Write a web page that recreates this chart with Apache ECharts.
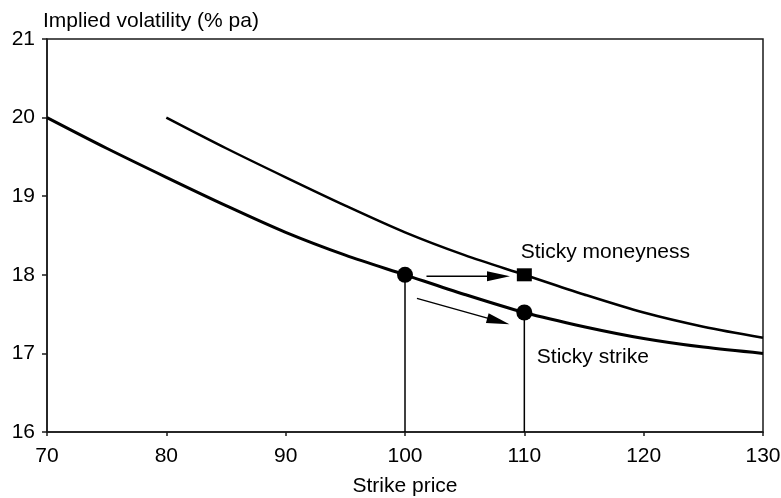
<!DOCTYPE html>
<html>
<head>
<meta charset="utf-8">
<script src="https://cdn.jsdelivr.net/npm/echarts@6/dist/echarts.min.js"></script>
<style>html,body{margin:0;padding:0;background:#fff}#c{width:781px;height:498px}</style>
</head>
<body>
<div id="c"></div>
<script>
// Strike prices (x) and implied vol (y) for the sticky-strike smile
var strikes = [70, 75, 80, 85, 90, 95, 100, 105, 110, 115, 120, 125, 130];
var stickyStrikeVol = [20.0, 19.61, 19.24, 18.88, 18.54, 18.25, 18.0, 17.75, 17.52, 17.34, 17.19, 17.08, 17.0];
// Sticky moneyness smile (shifted curve)
var moneynessStrikes = [80, 85, 90, 95, 100, 105, 110, 115, 120, 125, 130];
var stickyMoneynessVol = [20.0, 19.61, 19.24, 18.88, 18.54, 18.25, 18.0, 17.75, 17.52, 17.34, 17.2];
// Marked points
var circlePoints = [[100, 18.0], [110, 17.52]];
var squarePoints = [[110, 18.0]];
// Drop lines
var dropLine1 = [[100, 16], [100, 18.0]];
var dropLine2 = [[110, 16], [110, 17.52]];
// Arrows: [x start, y start, x tip, y tip]
var arrows = [[101.8, 17.98, 108.8, 17.98], [101.0, 17.70, 108.75, 17.37]];
// Annotations
var annotations = [[109.7, 18.29, 'Sticky moneyness'], [111.05, 16.95, 'Sticky strike']];
var xTicks = { min: 70, max: 130, interval: 10 };
var yTicks = { min: 16, max: 21, interval: 1 };

function zip(xs, ys) { return xs.map(function (x, i) { return [x, ys[i]]; }); }

var FONT = 'Liberation Sans';
var FS = 21;
var chart = echarts.init(document.getElementById('c'), null, { renderer: 'canvas' });
chart.setOption({
  animation: false,
  backgroundColor: '#fff',
  textStyle: { fontFamily: FONT },
  grid: { left: 47, right: 18, top: 39, bottom: 66, show: true, borderColor: '#1a1a1a', borderWidth: 1.5,
    backgroundColor: 'transparent', containLabel: false, outerBoundsMode: 'none' },
  xAxis: {
    type: 'value', min: xTicks.min, max: xTicks.max, interval: xTicks.interval,
    name: 'Strike price', nameLocation: 'middle', nameGap: 44,
    nameTextStyle: { fontSize: FS, color: '#000', fontFamily: FONT },
    axisLine: { show: true, lineStyle: { color: '#1a1a1a', width: 1.5 } },
    axisTick: { show: true, inside: false, length: 4, lineStyle: { color: '#1a1a1a', width: 1.5 } },
    axisLabel: { fontSize: FS, color: '#000', margin: 14, fontFamily: FONT },
    splitLine: { show: false }
  },
  yAxis: {
    type: 'value', min: yTicks.min, max: yTicks.max, interval: yTicks.interval,
    name: 'Implied volatility (% pa)', nameLocation: 'end', nameGap: 7,
    nameTextStyle: { fontSize: FS, color: '#000', align: 'left', verticalAlign: 'bottom', padding: [0, 0, 0, -4], fontFamily: FONT },
    axisLine: { show: true, lineStyle: { color: '#1a1a1a', width: 1.5 } },
    axisTick: { show: true, inside: false, length: 5, lineStyle: { color: '#1a1a1a', width: 1.5 } },
    axisLabel: { fontSize: FS, color: '#000', margin: 12, fontFamily: FONT },
    splitLine: { show: false }
  },
  series: [
    { type: 'line', data: zip(strikes, stickyStrikeVol), smooth: 0.3, showSymbol: false, symbol: 'none',
      lineStyle: { color: '#000', width: 3 }, z: 3 },
    { type: 'line', data: zip(moneynessStrikes, stickyMoneynessVol), smooth: 0.3, showSymbol: false, symbol: 'none',
      lineStyle: { color: '#000', width: 2.5 }, z: 3 },
    { type: 'line', data: dropLine1, symbol: 'none', lineStyle: { color: '#000', width: 1.5 }, z: 2 },
    { type: 'line', data: dropLine2, symbol: 'none', lineStyle: { color: '#000', width: 1.5 }, z: 2 },
    { type: 'scatter', data: circlePoints, symbol: 'circle', symbolSize: 16, itemStyle: { color: '#000', opacity: 1 }, z: 5 },
    { type: 'scatter', data: squarePoints, symbol: 'rect', symbolSize: [15, 13], itemStyle: { color: '#000', opacity: 1 }, z: 5 },
    { type: 'custom', data: arrows, z: 4, silent: true,
      encode: { x: [0, 2], y: [1, 3] },
      renderItem: function (params, api) {
        var a = api.coord([api.value(0), api.value(1)]);
        var b = api.coord([api.value(2), api.value(3)]);
        var dx = b[0] - a[0], dy = b[1] - a[1];
        var len = Math.sqrt(dx * dx + dy * dy);
        var ux = dx / len, uy = dy / len;
        var headLen = 23, halfW = 5;
        var bx = b[0] - ux * headLen, by = b[1] - uy * headLen;
        return {
          type: 'group',
          children: [
            { type: 'line', shape: { x1: a[0], y1: a[1], x2: bx + ux * 2, y2: by + uy * 2 },
              style: { stroke: '#000', lineWidth: 1.5 } },
            { type: 'polygon', shape: { points: [[b[0], b[1]], [bx - uy * halfW, by + ux * halfW], [bx + uy * halfW, by - ux * halfW]] },
              style: { fill: '#000' } }
          ]
        };
      } },
    { type: 'scatter', data: annotations, symbolSize: 0, silent: true, itemStyle: { opacity: 1 },
      label: { show: true, position: 'right', distance: 0, formatter: function (p) { return p.data[2]; },
        fontSize: FS, color: '#000', fontFamily: FONT, align: 'left', verticalAlign: 'middle' }, z: 6 }
  ]
});
</script>
</body>
</html>
